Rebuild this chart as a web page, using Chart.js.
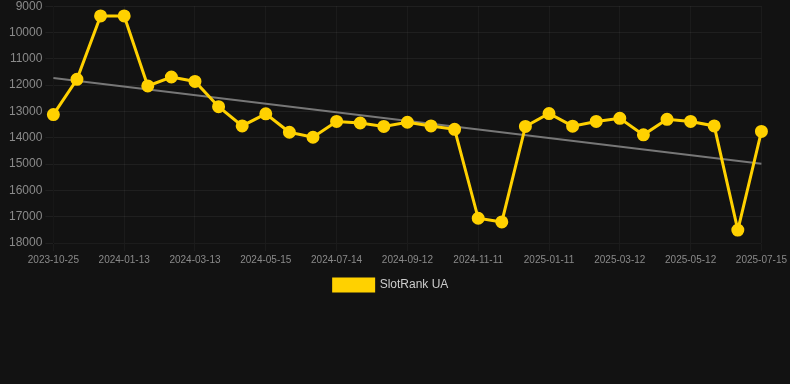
<!DOCTYPE html>
<html>
<head>
<meta charset="utf-8">
<script src="https://cdn.jsdelivr.net/npm/chart.js@4"></script>
<style>
  body { margin: 0; background: #121212; overflow: hidden; }
  .wrap { width: 790px; height: 305px; position: relative; margin-top: -4px; }
</style>
</head>
<body>
<div class="wrap"><canvas class="grafico"></canvas></div>
<script>
const canvas = document.querySelector('.grafico');

// fechas (cada 3ra se muestra en el eje)
const fechas = [
    "2023-10-25", "2023-11-21", "2023-12-17", "2024-01-13", "2024-02-02", "2024-02-22",
    "2024-03-13", "2024-04-03", "2024-04-24", "2024-05-15", "2024-06-04", "2024-06-24",
    "2024-07-14", "2024-08-03", "2024-08-23", "2024-09-12", "2024-10-02", "2024-10-22",
    "2024-11-11", "2024-12-01", "2024-12-21", "2025-01-11", "2025-01-31", "2025-02-20",
    "2025-03-12", "2025-04-01", "2025-04-21", "2025-05-12", "2025-06-02", "2025-06-23",
    "2025-07-15"
];

const ranking = [
    13120, 11780, 9370, 9370, 12030, 11690,
    11860, 12820, 13550, 13090, 13790, 13980,
    13380, 13440, 13570, 13410, 13550, 13680,
    17060, 17200, 13570, 13080, 13560, 13380,
    13260, 13890, 13300, 13380, 13550, 17510,
    13760
];

// linea de tendencia: solo inicio y fin
const tendencia = fechas.map(() => null);
tendencia[0] = 11730;
tendencia[fechas.length - 1] = 14990;

const yTicks = [9000, 10000, 11000, 12000, 13000, 14000, 15000, 16000, 17000, 18000];

const config = {
    type: "line",
    data: {
        labels: fechas,
        datasets: [{
            label: "SlotRank UA",
            data: ranking,
            borderColor: "#FFD100",
            backgroundColor: "#FFD100",
            borderWidth: 3,
            pointRadius: 5,
            pointHoverRadius: 5,
            tension: 0,
            order: 1
        }, {
            label: "trend",
            data: tendencia,
            borderColor: "#777777",
            borderWidth: 2,
            pointRadius: 0,
            spanGaps: true,
            order: 2
        }]
    },
    options: {
        responsive: true,
        maintainAspectRatio: false,
        animation: false,
        layout: { padding: { top: 0, right: 14, left: 6, bottom: 0 } },
        scales: {
            x: {
                grid: {
                    color: (ctx) => ctx.index % 3 === 0 ? "rgba(255,255,255,0.04)" : "rgba(0,0,0,0)"
                },
                ticks: {
                    color: "#8a8a8a",
                    font: { family: "Liberation Sans, Arial", size: 10 },
                    autoSkip: false,
                    maxRotation: 0,
                    callback: function (val, i) {
                        return i % 3 === 0 ? fechas[i] : "";
                    }
                }
            },
            y: {
                reverse: true,
                min: 9000,
                max: 18000,
                afterBuildTicks: (axis) => { axis.ticks = yTicks.map(v => ({ value: v })); },
                grid: { color: "rgba(255,255,255,0.06)" },
                ticks: {
                    color: "#8a8a8a",
                    font: { family: "Liberation Sans, Arial", size: 12 },
                    callback: (v) => String(v)
                }
            }
        },
        plugins: {
            legend: {
                position: "bottom",
                labels: {
                    color: "#cccccc",
                    font: { family: "Liberation Sans, Arial", size: 12 },
                    boxWidth: 40,
                    boxHeight: 12,
                    filter: (item) => item.text !== "trend"
                }
            },
            tooltip: { enabled: false }
        }
    }
};

new Chart(canvas, config);
</script>
</body>
</html>
